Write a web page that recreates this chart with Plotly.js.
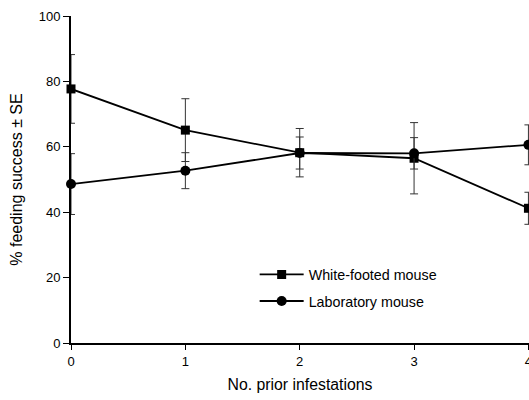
<!DOCTYPE html>
<html>
<head>
<meta charset="utf-8">
<script src="https://cdn.plot.ly/plotly-3.0.1.min.js"></script>
<style>html,body{margin:0;padding:0;background:#fff;}#chart{width:529px;height:400px;}</style>
</head>
<body>
<div id="chart"></div>
<script>
var infestations = [0, 1, 2, 3, 4];
var whiteFooted = [77.7, 65.1, 58.2, 56.5, 41.2];
var whiteFootedSE = [10.5, 9.6, 7.4, 10.9, 4.9];
var laboratory = [48.6, 52.7, 58.1, 58.0, 60.6];
var laboratorySE = [9.3, 5.5, 4.9, 4.8, 6.1];
var seriesNames = ['White-footed mouse', 'Laboratory mouse'];
var yTicks = [0, 20, 40, 60, 80, 100];

var FONT = 'Liberation Sans, Arial, sans-serif';
var errStyle = {type: 'data', visible: true, width: 4, thickness: 1, color: '#333'};

var traces = [
  {
    x: infestations, y: whiteFooted, name: seriesNames[0], type: 'scatter', mode: 'lines+markers',
    legendgroup: 'a', cliponaxis: false,
    line: {color: '#000', width: 1.8},
    marker: {symbol: 'square', size: 9, color: '#000'},
    error_y: Object.assign({array: whiteFootedSE}, errStyle)
  },
  {
    x: infestations, y: laboratory, name: seriesNames[1], type: 'scatter', mode: 'lines+markers',
    legendgroup: 'b', cliponaxis: false,
    line: {color: '#000', width: 1.8},
    marker: {symbol: 'circle', size: 10, color: '#000'},
    error_y: Object.assign({array: laboratorySE}, errStyle)
  }
];

var layout = {
  width: 529, height: 400,
  margin: {l: 71, r: 0, t: 16, b: 57},
  paper_bgcolor: '#fff', plot_bgcolor: '#fff',
  font: {family: FONT, size: 13, color: '#000'},
  showlegend: true,
  legend: {
    x: 0.401, y: 0.258, xanchor: 'left', yanchor: 'top',
    traceorder: 'grouped', tracegroupgap: 5,
    bgcolor: 'rgba(0,0,0,0)', font: {family: FONT, size: 14.3, color: '#000'}, itemwidth: 44
  },
  xaxis: {
    range: [0, 4.005], tickvals: infestations, ticktext: infestations.map(String),
    showgrid: false, zeroline: false, showline: true, linecolor: '#000', linewidth: 2,
    ticks: 'outside', ticklen: 5, tickwidth: 1, tickcolor: '#000',
    ticklabeloverflow: 'allow',
    tickfont: {family: FONT, size: 13},
    title: {text: 'No. prior infestations', font: {family: FONT, size: 15.8}, standoff: 11}
  },
  yaxis: {
    range: [0, 100], tickvals: yTicks, ticktext: yTicks.map(String),
    showgrid: false, zeroline: false, showline: true, linecolor: '#000', linewidth: 2,
    ticks: 'outside', ticklen: 6, tickwidth: 1, tickcolor: '#000',
    tickfont: {family: FONT, size: 13},
    title: {text: '% feeding success ± SE', font: {family: FONT, size: 16}, standoff: 12}
  }
};

Plotly.newPlot('chart', traces, layout, {staticPlot: true, displayModeBar: false});
</script>
</body>
</html>
